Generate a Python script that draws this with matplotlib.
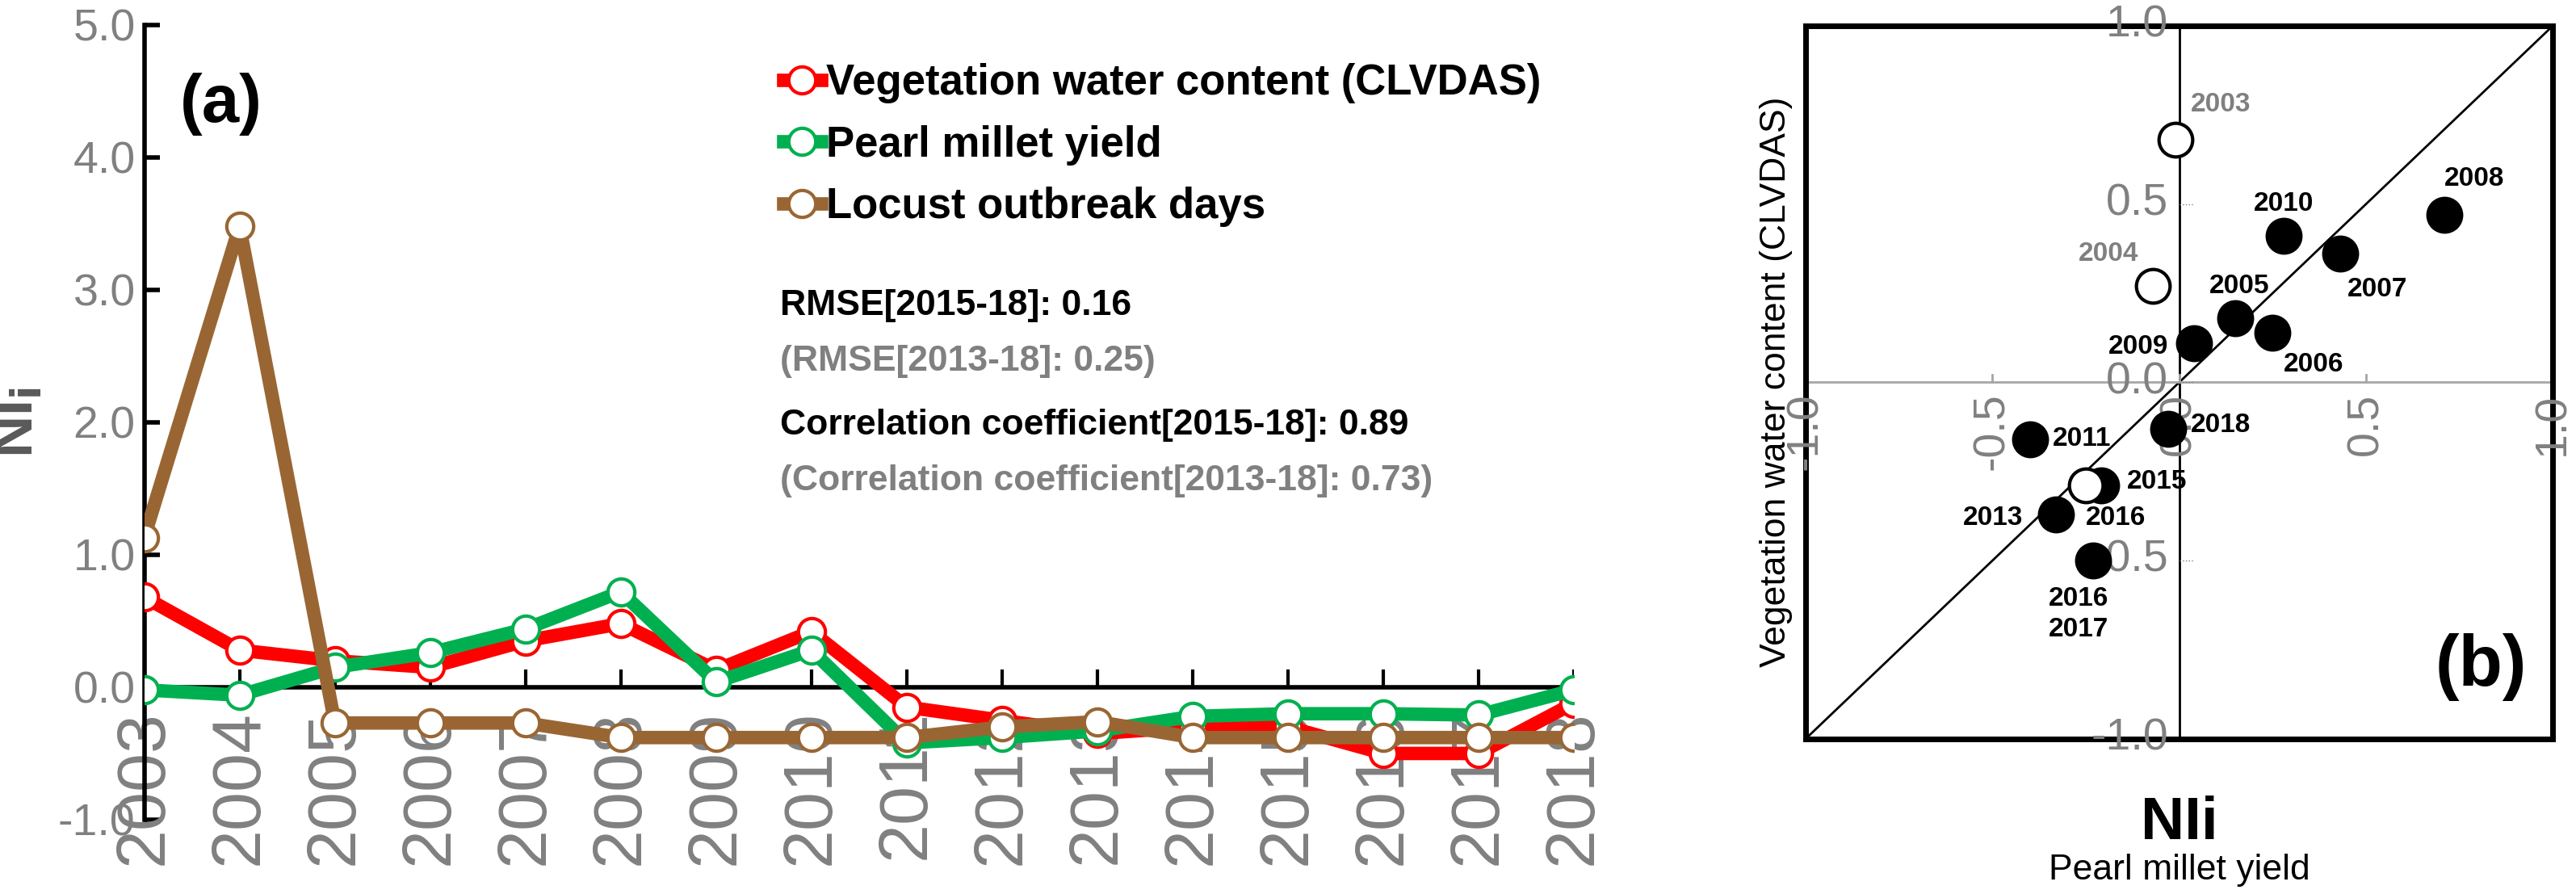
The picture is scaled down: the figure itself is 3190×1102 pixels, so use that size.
import matplotlib
matplotlib.use("Agg")
import matplotlib.pyplot as plt
from matplotlib.lines import Line2D

years = list(range(2003, 2019))
vwc = [0.68, 0.28, 0.20, 0.15, 0.35, 0.48, 0.13, 0.42, -0.15, -0.25, -0.35, -0.30, -0.30, -0.50, -0.50, -0.12]
pmy = [-0.02, -0.06, 0.15, 0.26, 0.44, 0.72, 0.04, 0.28, -0.42, -0.38, -0.33, -0.22, -0.20, -0.20, -0.21, -0.02]
locust = [1.13, 3.48, -0.27, -0.27, -0.27, -0.38, -0.38, -0.38, -0.38, -0.30, -0.26, -0.38, -0.38, -0.38, -0.38, -0.38]

sc_years = ["2003", "2004", "2005", "2006", "2007", "2008", "2009", "2010", "2011", "2013", "2015", "2016", "2017", "2018"]
sc_x = [-0.01, -0.07, 0.15, 0.25, 0.43, 0.71, 0.04, 0.28, -0.40, -0.33, -0.21, -0.25, -0.23, -0.03]
sc_y = [0.68, 0.27, 0.18, 0.14, 0.36, 0.47, 0.11, 0.41, -0.16, -0.37, -0.29, -0.29, -0.50, -0.13]
sc_open = [True, True, False, False, False, False, False, False, False, False, False, True, False, False]
sc_lab = ["2003", "2004", "2005", "2006", "2007", "2008", "2009", "2010", "2011", "2013", "2015", "2016", "2016\n2017", "2018"]
sc_off = [(0.04, 0.10), (-0.20, 0.09), (-0.07, 0.09), (0.03, -0.09), (0.02, -0.10), (0.0, 0.10), (-0.23, -0.01), (-0.08, 0.09),
          (0.06, 0.0), (-0.25, -0.01), (0.07, 0.01), (0.0, -0.09), (-0.12, -0.15), (0.06, 0.01)]

FONT = ["Liberation Sans", "DejaVu Sans"]
plt.rcParams["font.family"] = FONT
GRAY = "#808080"

fig = plt.figure(figsize=(31.9, 11.02), dpi=100)

# ---------- panel (a)
ax = fig.add_axes([0.056, 0.079, 0.555, 0.893])
cols = {"r": "#ff0000", "g": "#00b050", "b": "#996633"}
for data, c in [(vwc, cols["r"]), (pmy, cols["g"]), (locust, cols["b"])]:
    ax.plot(years, data, color=c, lw=12, marker="o", ms=24, mfc="white", mec=c, mew=3, zorder=3)
ax.set_xlim(2003, 2018)
ax.set_ylim(-1.0, 5.0)
ax.set_yticks([-1, 0, 1, 2, 3, 4, 5])
ax.set_yticklabels([f"{v:.1f}" for v in [-1, 0, 1, 2, 3, 4, 5]], fontsize=40, color=GRAY)
for s in ["top", "right", "bottom"]:
    ax.spines[s].set_visible(False)
ax.spines["left"].set_linewidth(4)
ax.tick_params(axis="y", length=14, width=4, direction="in", pad=8)
ax.axhline(0, color="black", lw=4, zorder=1)
ax.set_xticks([])
for y in years:
    ax.plot([y, y], [0, 0.12], color="black", lw=3, zorder=1)
    ax.text(y, -0.17, str(y), rotation=90, ha="center", va="top", fontsize=62, color=GRAY, zorder=2, clip_on=False)
ax.set_ylabel(r"NI$_{\mathbf{i}}$", fontsize=52, fontweight="bold", color="#595959", labelpad=12)
ax.text(0.025, 0.90, "(a)", transform=ax.transAxes, fontsize=60, fontweight="bold", va="center")
handles = [Line2D([], [], color=cols[k], lw=12, marker="o", ms=24, mfc="white", mec=cols[k], mew=3) for k in "rgb"]
ax.legend(handles, ["Vegetation water content (CLVDAS)", "Pearl millet yield", "Locust outbreak days"],
          loc="upper left", bbox_to_anchor=(0.42, 1.0), frameon=False, handlelength=0.9, handletextpad=0.1,
          labelspacing=0.5, prop={"weight": "bold", "size": 38})
ax.text(0.445, 0.635, "RMSE[2015-18]: 0.16", transform=ax.transAxes, fontsize=32, fontweight="bold")
ax.text(0.445, 0.565, "(RMSE[2013-18]: 0.25)", transform=ax.transAxes, fontsize=32, fontweight="bold", color=GRAY)
ax.text(0.445, 0.485, "Correlation coefficient[2015-18]: 0.89", transform=ax.transAxes, fontsize=32, fontweight="bold")
ax.text(0.445, 0.415, "(Correlation coefficient[2013-18]: 0.73)", transform=ax.transAxes, fontsize=32, fontweight="bold", color=GRAY)

# ---------- panel (b)
bx = fig.add_axes([0.701, 0.170, 0.290, 0.801])
bx.set_xlim(-1, 1)
bx.set_ylim(-1, 1)
for s in bx.spines.values():
    s.set_linewidth(5)
bx.set_xticks([])
bx.set_yticks([])
bx.plot([-1, 1], [-1, 1], color="black", lw=2)
bx.axvline(0, color="black", lw=2)
bx.axhline(0, color="#a6a6a6", lw=2)
for v in [-1.0, -0.5, 0.0, 0.5, 1.0]:
    bx.text(-0.03, v, f"{v:.1f}", ha="right", va="center", fontsize=40, color=GRAY)
    bx.text(v, -0.03, f"{v:.1f}", ha="center", va="top", rotation=90, fontsize=40, color=GRAY)
    bx.plot([v, v], [0, 0.02], color="#a6a6a6", lw=2)
    bx.plot([0, 0.04], [v, v], color="#808080", lw=1, ls=":")
for x, y, o, lab, (dx, dy) in zip(sc_x, sc_y, sc_open, sc_lab, sc_off):
    bx.scatter([x], [y], s=900, facecolor="white" if o else "black", edgecolor="black", linewidth=3, zorder=4)
    bx.text(x + dx, y + dy, lab, fontsize=24, fontweight="bold", color=GRAY if lab in ("2003", "2004") else "black",
            ha="left", va="center", zorder=5, linespacing=1.3)
bx.text(0.93, -0.80, "(b)", ha="right", va="center", fontsize=64, fontweight="bold")
bx.set_ylabel("Vegetation water content (CLVDAS)", fontsize=32, labelpad=12)
fig.text(0.846, 0.075, "NIi", ha="center", va="center", fontsize=54, fontweight="bold")
fig.text(0.846, 0.022, "Pearl millet yield", ha="center", va="center", fontsize=32)

fig.savefig("out.png", dpi=100)
